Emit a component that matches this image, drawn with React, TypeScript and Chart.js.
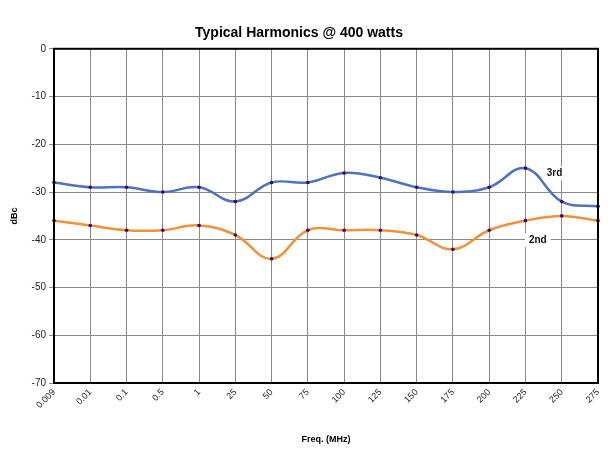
import React, { useEffect, useRef } from "react";
import { Chart, registerables } from "chart.js";

Chart.register(...registerables);

const categories = ["0.009", "0.01", "0.1", "0.5", "1", "25", "50", "75", "100", "125", "150", "175", "200", "225", "250", "275"];
const third = [-28, -29, -29, -30, -29, -32, -28, -28, -26, -27, -29, -30, -29, -25, -32, -33];
const second = [-36, -37, -38, -38, -37, -39, -44, -38, -38, -38, -39, -42, -38, -36, -35, -36];
const yTicks = { min: -70, max: 0, step: 10 };
const seriesLabels = ["3rd", "2nd"];
// label anchors in data terms: [category index position, value]
const labelAnchors = [
  [13.8, -26.1],
  [13.34, -40.1],
];

const FONT = "'Liberation Sans', Arial, sans-serif";

const framePlugin = {
  id: "frame",
  afterDatasetsDraw(chart: any) {
    const { ctx, chartArea } = chart;
    ctx.save();
    ctx.strokeStyle = "#000";
    ctx.lineWidth = 2;
    ctx.strokeRect(chartArea.left, chartArea.top, chartArea.right - chartArea.left, chartArea.bottom - chartArea.top);
    ctx.restore();
  },
};

const seriesLabelPlugin = {
  id: "seriesLabels",
  afterDatasetsDraw(chart: any) {
    const { ctx, scales } = chart;
    ctx.save();
    ctx.font = `bold 10px ${FONT}`;
    ctx.textAlign = "center";
    ctx.textBaseline = "middle";
    seriesLabels.forEach((t, i) => {
      const [xi, yv] = labelAnchors[i];
      const x = scales.x.getPixelForValue(xi);
      const y = scales.y.getPixelForValue(yv);
      const w = ctx.measureText(t).width + 8;
      ctx.fillStyle = "#fff";
      ctx.fillRect(x - w / 2, y - 7, w, 14);
      ctx.fillStyle = "#111";
      ctx.fillText(t, x, y);
    });
    ctx.restore();
  },
};

export default function App() {
  const ref = useRef<HTMLCanvasElement>(null);
  useEffect(() => {
    if (!ref.current) return;
    const chart = new Chart(ref.current, {
      type: "line",
      data: {
        labels: categories,
        datasets: [
          {
            label: seriesLabels[0],
            data: third,
            borderColor: "#4F72BE",
            borderWidth: 2.5,
            pointBackgroundColor: "#3A0A6A",
            pointBorderWidth: 0,
            pointRadius: 1.8,
            tension: 0.4,
            fill: false,
          },
          {
            label: seriesLabels[1],
            data: second,
            borderColor: "#F0923C",
            borderWidth: 2.5,
            pointBackgroundColor: "#3A0A6A",
            pointBorderWidth: 0,
            pointRadius: 1.8,
            tension: 0.4,
            fill: false,
          },
        ],
      },
      options: {
        animation: false,
        responsive: false,
        layout: { padding: { left: 0, right: 17, top: 0, bottom: 0 } },
        plugins: {
          legend: { display: false },
          tooltip: { enabled: false },
          title: {
            display: true,
            text: "Typical Harmonics @ 400 watts",
            color: "#000",
            font: { family: FONT, size: 14, weight: "bold" },
            padding: { top: 25, bottom: 7 },
          },
        },
        scales: {
          x: {
            offset: false,
            grid: { color: "#8a8a8a", lineWidth: 1, tickLength: 0 },
            border: { display: false },
            ticks: {
              minRotation: 45,
              maxRotation: 45,
              autoSkip: false,
              color: "#222",
              font: { family: FONT, size: 9 },
              padding: 4,
            },
            title: {
              display: true,
              text: "Freq. (MHz)",
              color: "#000",
              font: { family: FONT, size: 9, weight: "bold" },
              padding: { top: 0, bottom: 9 },
            },
            afterFit(scale: any) {
              scale.height = 454 - 383;
            },
          },
          y: {
            min: yTicks.min,
            max: yTicks.max,
            grid: { color: "#8a8a8a", lineWidth: 1, tickLength: 5 },
            border: { display: false },
            ticks: {
              stepSize: yTicks.step,
              color: "#222",
              font: { family: FONT, size: 10 },
              padding: 3,
            },
            title: {
              display: true,
              text: "dBc",
              color: "#000",
              font: { family: FONT, size: 9, weight: "bold" },
              padding: { top: 9, bottom: 0 },
            },
            afterFit(scale: any) {
              scale.width = 54;
            },
          },
        },
      },
      plugins: [framePlugin, seriesLabelPlugin],
    });
    return () => chart.destroy();
  }, []);
  return (
    <div style={{ position: "fixed", left: 0, top: 0, width: 615, height: 454, background: "#fff" }}>
      <canvas ref={ref} width={615} height={454} />
    </div>
  );
}
